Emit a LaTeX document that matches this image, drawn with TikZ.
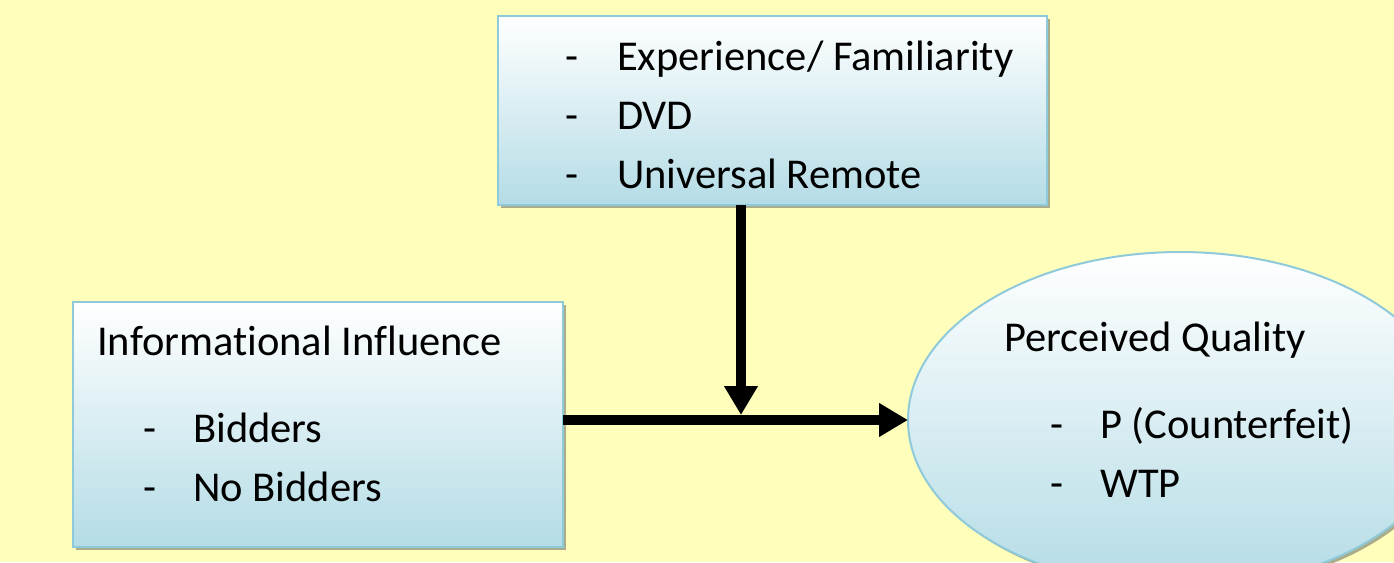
\documentclass[tikz,border=0pt]{standalone}
\usepackage{fontspec}
\setmainfont{Carlito}[Ligatures=NoCommon]
\usetikzlibrary{arrows.meta,shapes.geometric,shadows}

\definecolor{bgyellow}{HTML}{FFFFBB}
\definecolor{edgeblue}{HTML}{8FCADB}
\definecolor{fillblue}{HTML}{B4DCE6}
\definecolor{shadowgrey}{HTML}{A8AD8C}

\tikzset{
  panel/.style={draw=edgeblue, line width=2pt, top color=white, bottom color=fillblue,
    inner sep=0pt, outer sep=0pt,
    drop shadow={shadow xshift=3pt, shadow yshift=-3pt, fill=shadowgrey, opacity=1}},
  txt/.style={anchor=base west, inner sep=0pt, font=\fontsize{42.5}{50}\selectfont},
  link/.style={line width=10pt, -{Triangle[length=29pt,width=32pt]}}
}

\begin{document}
\begin{tikzpicture}[x=1pt, y=-1pt]
  \useasboundingbox (0,0) rectangle (1394,562);
  \fill[bgyellow] (0,0) rectangle (1394,562);

  % moderator box
  \node[panel, rectangle, minimum width=549pt, minimum height=189pt] (mod) at (772.5,110.5) {};
  \node[txt] (m1d) at (565,70) {-};
  \node[txt] (m1) at (617,70) {Experience/ Familiarity};
  \node[txt] (m2d) at (565,129) {-};
  \node[txt] (m2) at (617,129) {DVD};
  \node[txt] (m3d) at (565,188) {-};
  \node[txt] (m3) at (617,188) {Universal Remote};

  % informational influence box
  \node[panel, rectangle, minimum width=490pt, minimum height=245pt] (inf) at (318,424.5) {};
  \node[txt] (i0) at (97,355) {Informational Influence};
  \node[txt] (i1d) at (143,442) {-};
  \node[txt] (i1) at (193,442) {Bidders};
  \node[txt] (i2d) at (143,501) {-};
  \node[txt] (i2) at (193,501) {No Bidders};

  % perceived quality ellipse
  \node[panel, ellipse, minimum width=544pt, minimum height=336pt] (pq) at (1180,420) {};
  \node[txt] (p0) at (1004,351) {Perceived Quality};
  \node[txt] (p1d) at (1050,438) {-};
  \node[txt] (p1) at (1100,438) {P (Counterfeit)};
  \node[txt] (p2d) at (1050,497) {-};
  \node[txt] (p2) at (1100,497) {WTP};

  % connectors
  \coordinate (meet) at (741,415);
  \draw[link] (inf.east |- pq.west) -- (pq.west);
  \draw[link] (mod.south -| meet) -- (meet);
\end{tikzpicture}
\end{document}
